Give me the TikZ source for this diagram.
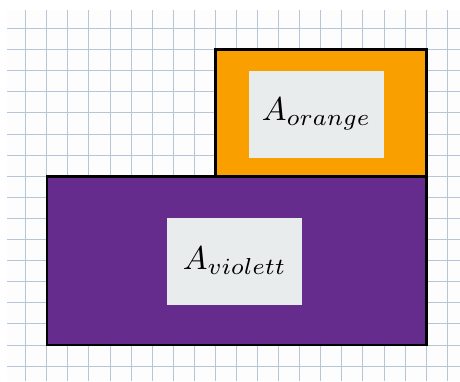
\documentclass[tikz,border=0pt]{standalone}
\usepackage{graphicx}
\definecolor{gridbg}{HTML}{FDFDFD}
\definecolor{gridline}{HTML}{B7C5D8}
\definecolor{violettc}{HTML}{652C8E}
\definecolor{orangec}{HTML}{F99F00}
\definecolor{labelbg}{HTML}{E9ECED}
\newcommand{\biglabel}[1]{\scalebox{3.3}{$#1$}}
\tikzset{
  area/.style={draw=black, line width=2.6pt, line join=miter},
  labelbox/.style={fill=labelbg, draw=none, minimum width=135pt, minimum height=87pt, inner sep=0pt},
  gridln/.style={draw=gridline, line width=1.2pt}
}
\begin{document}
\begin{tikzpicture}[x=1pt,y=-1pt]
\useasboundingbox (0,0) rectangle (460,381);
\fill[white] (0,0) rectangle (460,381);
\fill[gridbg] (7,10) rectangle (460,381);
\foreach \k in {0,...,20} {
  \pgfmathsetmacro{\gx}{floor(25.7+21.08*\k)+0.5}
  \draw[gridln] (\gx,10) -- (\gx,381);
}
\foreach \k in {0,...,16} {
  \pgfmathsetmacro{\gy}{floor(28.5+21.1*\k)+0.5}
  \draw[gridln] (7,\gy) -- (460,\gy);
}
\fill[orangec] (215.4,49.6) rectangle (426.3,176.2);
\fill[violettc] (46.8,176.2) rectangle (426.3,345);
\draw[area] (215.4,176.2) -- (215.4,49.6) -- (426.3,49.6) -- (426.3,345) -- (46.8,345) -- (46.8,176.2) -- cycle;
\draw[area] (215.4,176.2) -- (426.3,176.2);
\node[labelbox] (lo) at (316.5,114.3) {\biglabel{A_{orange}}};
\node[labelbox] (lv) at (234.7,261) {\biglabel{A_{violett}}};
\end{tikzpicture}
\end{document}
